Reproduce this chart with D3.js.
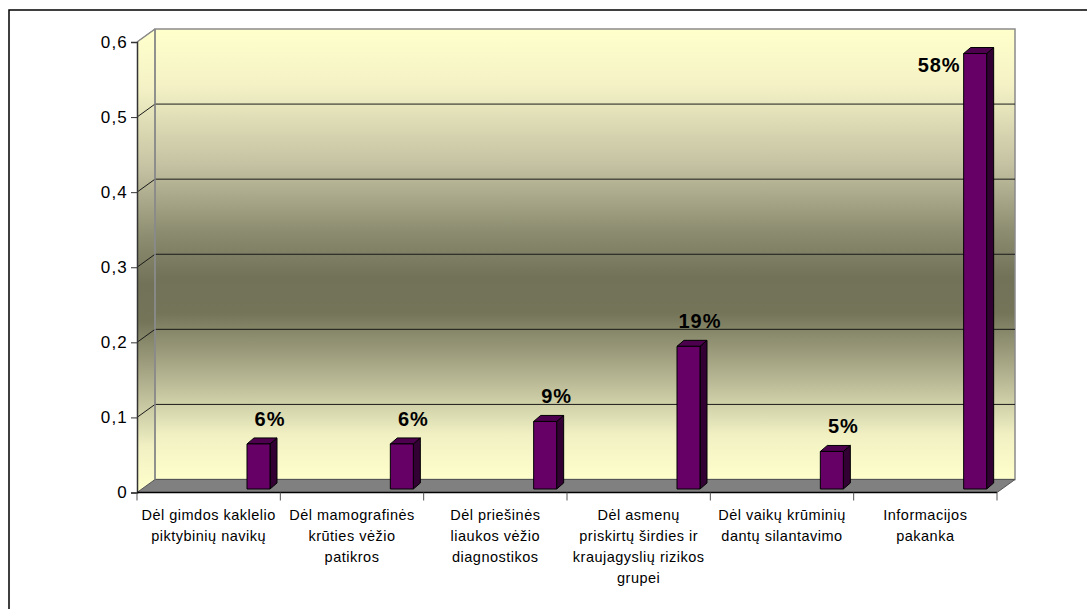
<!DOCTYPE html>
<html><head><meta charset="utf-8">
<script src="https://cdn.jsdelivr.net/npm/d3@7"></script>
<style>body{margin:0;background:#fff}svg{display:block}</style>
</head><body>
<script>
const categories = [
  ["Dėl gimdos kaklelio","piktybinių navikų"],
  ["Dėl mamografinės","krūties vėžio","patikros"],
  ["Dėl priešinės","liaukos vėžio","diagnostikos"],
  ["Dėl asmenų","priskirtų širdies ir","kraujagyslių rizikos","grupei"],
  ["Dėl vaikų krūminių","dantų silantavimo"],
  ["Informacijos","pakanka"]
];
const values = [0.06, 0.06, 0.09, 0.19, 0.05, 0.58];
const valueLabels = ["6%","6%","9%","19%","5%","58%"];
const yTicks = [0, 0.1, 0.2, 0.3, 0.4, 0.5, 0.6];
const yTickLabels = ["0","0,1","0,2","0,3","0,4","0,5","0,6"];

(function(){
const W = 1087, H = 609;
const svg = d3.select("body").append("svg").attr("width", W).attr("height", H);

const x0 = 137, x1 = 997;
const DX = 18, DY = -13;
const y = d3.scaleLinear().domain([0, 0.6]).range([492.5, 42]);
const xb = d3.scaleBand().domain(d3.range(categories.length)).range([x0, x1]);

svg.append("rect").attr("x", 9).attr("y", 10).attr("width", W + 20).attr("height", H + 20)
  .attr("fill", "none").attr("stroke", "#000").attr("stroke-width", 1.5);

const defs = svg.append("defs");
const g = defs.append("linearGradient").attr("id", "wall").attr("x1", 0).attr("y1", 0).attr("x2", 0).attr("y2", 1);
[[0,"#FFFFCC"],[0.12,"#F5F3C6"],[0.3,"#C4C2A2"],[0.45,"#8C8C70"],[0.55,"#727259"],[0.63,"#747459"],[0.78,"#B8B895"],[0.9,"#F0F0C3"],[1,"#FFFFCC"]]
  .forEach(([o,c]) => g.append("stop").attr("offset", o).attr("stop-color", c));

const yTop = y(0.6), yBot = y(0);
svg.append("path")
  .attr("d", `M${x0},${yTop}L${x0+DX},${yTop+DY}L${x0+DX},${yBot+DY}L${x0},${yBot}Z`)
  .attr("fill", "url(#wall)").attr("stroke", "none");
svg.append("rect").attr("x", x0+DX).attr("y", yTop+DY).attr("width", x1-x0).attr("height", yBot-yTop)
  .attr("fill", "url(#wall)").attr("stroke", "#8a8a8a").attr("stroke-width", 1.5);
svg.append("path")
  .attr("d", `M${x0},${yBot}L${x0+DX},${yBot+DY}L${x1+DX},${yBot+DY}L${x1},${yBot}Z`)
  .attr("fill", "#808080").attr("stroke", "#555").attr("stroke-width", 1);

yTicks.forEach(t => {
  if (t === 0) return;
  const yy = y(t);
  const col = t === 0.6 ? "#8a8a8a" : "#1a1a1a";
  svg.append("line").attr("x1", x0).attr("y1", yy).attr("x2", x0+DX).attr("y2", yy+DY)
    .attr("stroke", col).attr("stroke-width", 1);
  if (t !== 0.6)
    svg.append("line").attr("x1", x0+DX).attr("y1", yy+DY).attr("x2", x1+DX).attr("y2", yy+DY)
      .attr("stroke", col).attr("stroke-width", 1);
});
svg.append("line").attr("x1", x0+DX).attr("y1", yTop+DY).attr("x2", x0+DX).attr("y2", yBot+DY)
  .attr("stroke", "#8a8a8a").attr("stroke-width", 1.5);
svg.append("line").attr("x1", x0).attr("y1", yTop).attr("x2", x0+DX).attr("y2", yTop+DY)
  .attr("stroke", "#8a8a8a").attr("stroke-width", 1.5);

const yAxis = d3.axisLeft(y).tickValues(yTicks).tickSize(6).tickPadding(3)
  .tickFormat((d,i) => yTickLabels[i]);
const ya = svg.append("g").attr("transform", `translate(${x0},0)`).call(yAxis);
ya.select(".domain").attr("stroke", "#333").attr("stroke-width", 1.5);
ya.selectAll(".tick line").attr("stroke", "#333");
ya.selectAll(".tick text").attr("font-family", "Arial, 'Liberation Sans', sans-serif")
  .attr("font-size", 17).attr("fill", "#000").attr("letter-spacing", "1.2px");

const xa = svg.append("g").attr("transform", `translate(0,${yBot})`);
xa.append("line").attr("x1", x0).attr("x2", x1).attr("y1", 0).attr("y2", 0).attr("stroke", "#000").attr("stroke-width", 1.5);
d3.range(categories.length + 1).forEach(i => {
  const xx = i < categories.length ? xb(i) : x1;
  xa.append("line").attr("x1", xx).attr("x2", xx).attr("y1", 0).attr("y2", 8).attr("stroke", "#555");
});
categories.forEach((lines, i) => {
  const t = xa.append("text").attr("text-anchor", "middle")
    .attr("font-family", "Arial, 'Liberation Sans', sans-serif").attr("font-size", 14.5)
    .attr("letter-spacing", "0.5px").attr("fill", "#000");
  lines.forEach((ln, j) => t.append("tspan").attr("x", xb(i) + xb.bandwidth()/2).attr("y", 27 + j*21).text(ln));
});

const bw = 23, bd = 7, bdy = -6, bOff = 110, bBase = yBot - 3.5;
const k = (y(0) - y(0.1)) / 0.1;
values.forEach((v, i) => {
  const bx = xb(i) + bOff;
  const ty = bBase - v * k;
  const gb = svg.append("g").attr("stroke", "#000").attr("stroke-width", 1).attr("stroke-linejoin", "round");
  gb.append("path").attr("d", `M${bx+bw},${ty}L${bx+bw+bd},${ty+bdy}L${bx+bw+bd},${bBase+bdy}L${bx+bw},${bBase}Z`).attr("fill", "#330033");
  gb.append("path").attr("d", `M${bx},${ty}L${bx+bd},${ty+bdy}L${bx+bw+bd},${ty+bdy}L${bx+bw},${ty}Z`).attr("fill", "#4d004d");
  gb.append("rect").attr("x", bx).attr("y", ty).attr("width", bw).attr("height", bBase - ty).attr("fill", "#660066");
  const lab = svg.append("text").attr("font-family", "Arial, 'Liberation Sans', sans-serif")
    .attr("font-size", 20).attr("font-weight", "bold").attr("letter-spacing", "1px").attr("fill", "#000")
    .text(valueLabels[i]);
  if (ty - 18 < yTop + DY + 10) {
    lab.attr("text-anchor", "end").attr("x", bx - 3).attr("y", ty + 18);
  } else {
    lab.attr("text-anchor", "middle").attr("x", bx + 23).attr("y", ty - 18);
  }
});
})();
</script>
</body></html>
